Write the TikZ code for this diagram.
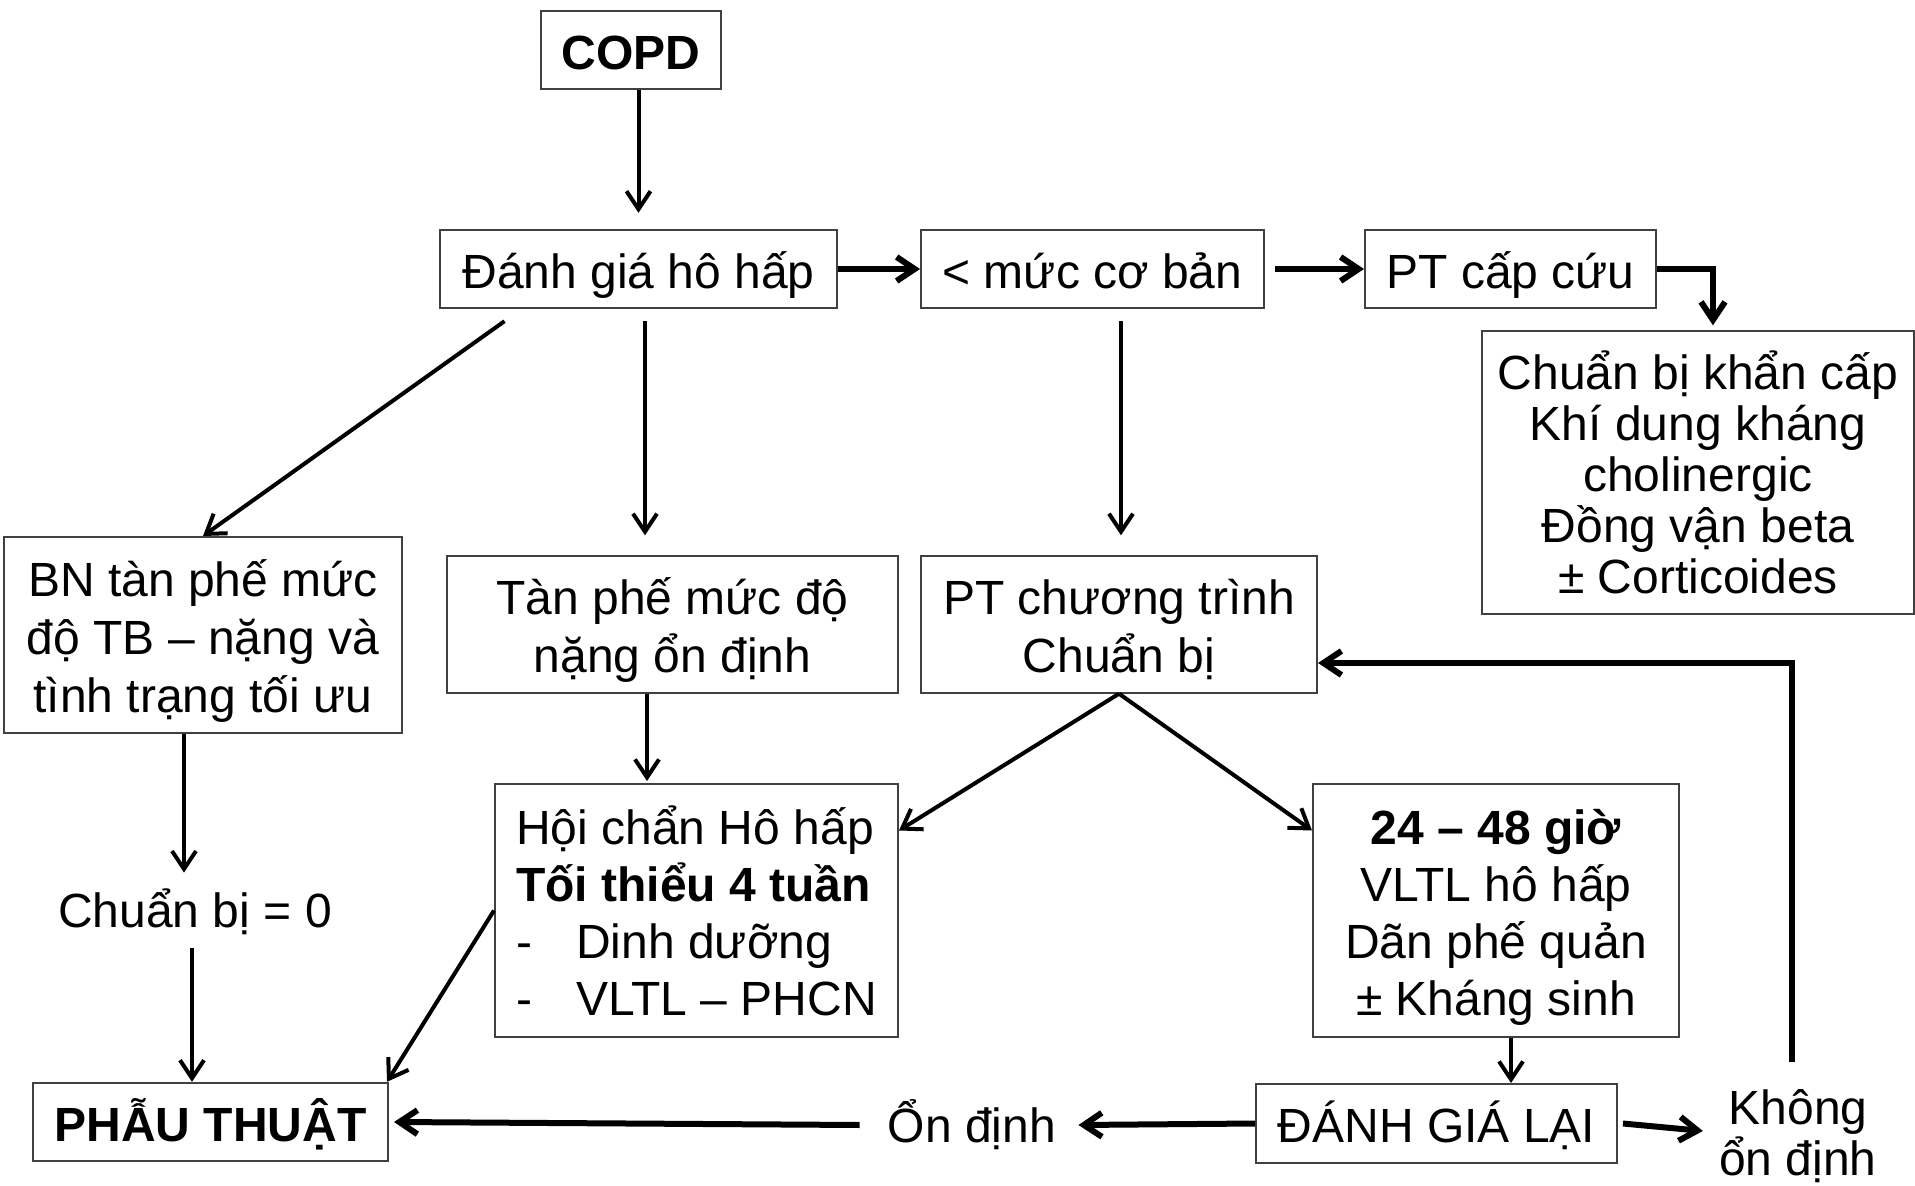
\documentclass[tikz,border=0pt]{standalone}
\usepackage{fontspec}
\setmainfont{Liberation Sans}
\usetikzlibrary{arrows.meta}
\newcommand{\tstrut}{\rule{0pt}{29.2pt}}
\newcommand{\bstrut}{\rule[-10pt]{0pt}{0pt}}

\begin{document}
\begin{tikzpicture}[x=0.5pt,y=0.5pt,yscale=-1,xscale=1,
  box/.style={draw=black!75, line width=1pt, align=center, inner sep=0pt, font=\fontsize{24}{29}\selectfont},
  txt/.style={align=center, inner sep=0pt, text height=21pt, text depth=4pt, font=\fontsize{24}{29}\selectfont},
  arr/.style={-{Straight Barb[length=9pt,width=12pt]}, line width=2pt},
  heavy/.style={arr, line width=3pt}]
\useasboundingbox (0,0) rectangle (1915,1186);

% Text Node
\node[box, minimum width=90pt, minimum height=39pt, font=\fontsize{24}{29}\selectfont\bfseries] (copd) at (631,50) {\tstrut COPD\bstrut};
% Text Node
\node[box, minimum width=198.5pt, minimum height=39pt] (danhgia) at (638.5,269) {\tstrut Đánh giá hô hấp\bstrut};
% Text Node
\node[box, minimum width=171.5pt, minimum height=39pt] (muc) at (1092.5,269) {\tstrut < mức cơ bản\bstrut};
% Text Node
\node[box, minimum width=145.5pt, minimum height=39pt] (ptcc) at (1510.5,269) {\tstrut PT cấp cứu\bstrut};
% Text Node
\node[box, minimum width=216pt, minimum height=140.5pt, font=\fontsize{24}{25.5}\selectfont] (khancap) at (1698,472.5) {\tstrut Chuẩn bị khẩn cấp\\Khí dung kháng\\cholinergic\\Đồng vận beta\\± Corticoides\bstrut};
% Text Node
\node[box, minimum width=199pt, minimum height=98pt] (bn) at (203,635) {\tstrut BN tàn phế mức\\độ TB – nặng và\\tình trạng tối ưu\bstrut};
% Text Node
\node[box, minimum width=225.5pt, minimum height=67.5pt] (tanphe) at (672.5,624.5) {\tstrut Tàn phế mức độ\\nặng ổn định\bstrut};
% Text Node
\node[box, minimum width=198pt, minimum height=67.5pt] (ptct) at (1119,624.5) {\tstrut PT chương trình\\Chuẩn bị\bstrut};
% Text Node
\node[box, align=left, minimum width=201.5pt, minimum height=126.5pt, font=\fontsize{24}{28.5}\selectfont] (hoichan) at (696.5,910.5) {\tstrut Hội chẩn Hô hấp\\\textbf{Tối thiểu 4 tuần}\\\makebox[30pt][l]{-}Dinh dưỡng\\\makebox[30pt][l]{-}VLTL – PHCN\bstrut};
% Text Node
\node[box, minimum width=183pt, minimum height=126.5pt, font=\fontsize{24}{28.5}\selectfont] (gio) at (1496,910.5) {\tstrut\textbf{24 – 48 giờ}\\VLTL hô hấp\\Dãn phế quản\\± Kháng sinh\bstrut};
% Text Node
\node[txt] (cb0) at (195,910) {Chuẩn bị = 0};
% Text Node
\node[box, minimum width=177.5pt, minimum height=39pt, font=\fontsize{24}{29}\selectfont\bfseries] (phauthuat) at (210.5,1122) {\tstrut PHẪU THUẬT\bstrut};
% Text Node
\node[txt] (ondinh) at (972,1125) {Ổn định};
% Text Node
\node[box, minimum width=180.5pt, minimum height=39.5pt] (danhgialai) at (1436.5,1123.5) {\tstrut ĐÁNH GIÁ LẠI\bstrut};
% Text Node
\node[align=center, inner sep=0pt, font=\fontsize{24}{23}\selectfont] (khong) at (1798,1131) {\tstrut Không\\ổn định\bstrut};

%Straight Lines
\draw[arr] (danhgia.north |- copd.south) -- ([yshift=-8pt]danhgia.north);
\draw[heavy] (danhgia.east) -- (muc.west);
\draw[heavy] ([xshift=5pt]muc.east) -- (ptcc.west);
\draw[heavy] (ptcc.east) -| ([xshift=7.5pt,yshift=-2.5pt]khancap.north);
\draw[arr] ([xshift=-67pt,yshift=6pt]danhgia.south) -- (bn.north);
\draw[arr] ([xshift=3.25pt,yshift=6pt]danhgia.south) -- ([xshift=-13.75pt,yshift=-10pt]tanphe.north);
\draw[arr] ([xshift=14.25pt,yshift=6pt]muc.south) -- ([xshift=1pt,yshift=-10pt]ptct.north);
\draw[arr] ([xshift=-9.5pt]bn.south) -- ([xshift=-5.5pt,yshift=-6pt]cb0.north);
\draw[arr] ([xshift=-1.5pt,yshift=6.5pt]cb0.south) -- ([xshift=-9.25pt]phauthuat.north);
\draw[arr] ([xshift=-12.75pt]tanphe.south) -- ([xshift=-24.75pt,yshift=-1pt]hoichan.north);
\draw[arr] (ptct.south) -- ([yshift=-40pt]hoichan.east);
\draw[arr] (ptct.south) -- ([yshift=-40pt]gio.west);
\draw[arr] (hoichan.west) -- ([xshift=-1pt]phauthuat.north east);
\draw[arr] ([xshift=7.5pt]gio.south) -- ([xshift=37.25pt]danhgialai.north);
\draw[heavy] (danhgialai.west) -- ([xshift=11pt]ondinh.east);
\draw[heavy] ([xshift=-14pt]ondinh.west) -- ([xshift=2.5pt]phauthuat.east);
\draw[heavy] ([xshift=2.5pt]danhgialai.east) -- ([xshift=-8pt]khong.west);
\draw[heavy] ([xshift=-3pt,yshift=-2pt]khong.north) |- ([yshift=19.25pt]ptct.east);

\end{tikzpicture}
\end{document}
